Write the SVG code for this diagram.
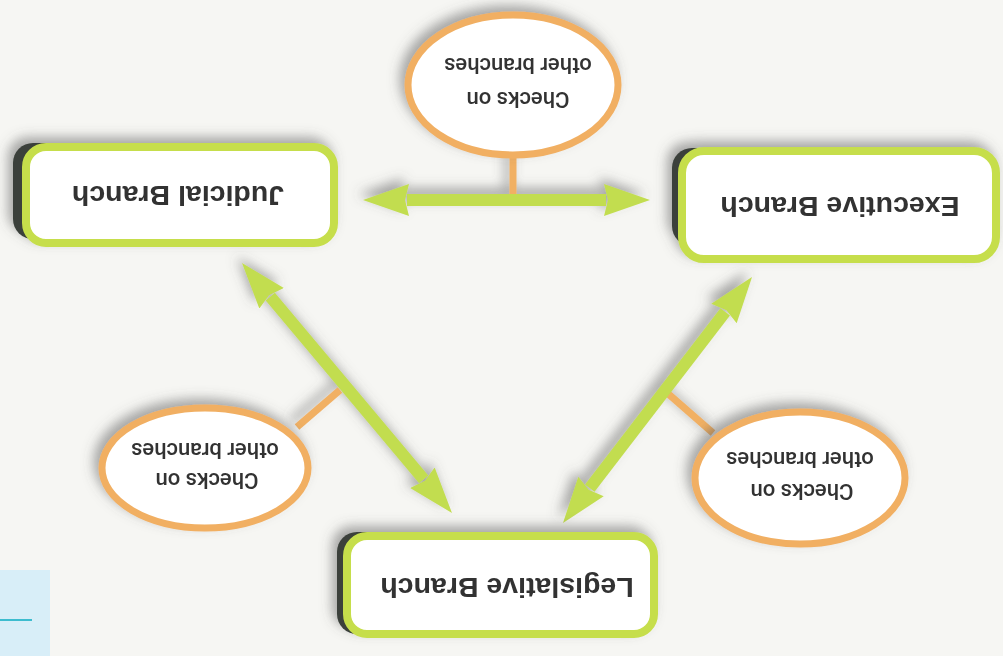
<svg xmlns="http://www.w3.org/2000/svg" width="1003" height="656" viewBox="0 0 1003 656">
<style>
.box{fill:#ffffff;stroke:#c6de4c;stroke-width:8}
.dark{fill:#3a403a}
.oval{fill:#ffffff;stroke:#f1af62;stroke-width:7}
.stem{stroke:#f1b064;stroke-width:7;fill:none}
.arrow{stroke:#c2dd4f;stroke-width:12;fill:none;marker-start:url(#head);marker-end:url(#head)}
.lbl{font-family:Arial,"Liberation Sans",Roboto,sans-serif;font-weight:700;font-size:28.5px;fill:#333333;text-anchor:middle}
.chk{font-family:Roboto,"Noto Sans",sans-serif;font-weight:500;font-size:22px;fill:#333333;text-anchor:middle}
</style>
<defs>
<filter id="sh" x="-20%" y="-30%" width="140%" height="160%">
<feDropShadow dx="-5" dy="-6" stdDeviation="6" flood-color="#555555" flood-opacity="0.5"/>
</filter>
<marker id="head" viewBox="0 -17 46 34" markerWidth="46" markerHeight="34" refX="2" refY="0" markerUnits="userSpaceOnUse" orient="auto-start-reverse">
<path d="M0,-16 L46,0 L0,16 L4,0 Z" fill="#c2dd4f"/>
</marker>
</defs>
<rect width="1003" height="656" fill="#f6f6f3"/>
<g id="corner">
<rect x="0" y="570" width="50" height="86" fill="#d8eef8"/>
<line x1="0" y1="620" x2="32" y2="620" stroke="#3dbccf" stroke-width="2"/>
</g>
<g id="connectors" filter="url(#sh)">
<line class="stem" x1="513" y1="157" x2="513" y2="198"/>
<line class="stem" x1="297" y1="427" x2="340" y2="390"/>
<line class="stem" x1="713" y1="433" x2="665" y2="391"/>
<line class="arrow" x1="407" y1="200" x2="606" y2="200"/>
<line class="arrow" x1="270.3" y1="296.7" x2="423.7" y2="479.3"/>
<line class="arrow" x1="725.2" y1="311.9" x2="589.8" y2="488.1"/>
</g>
<g id="judicial" filter="url(#sh)">
<rect class="dark" x="13" y="143" width="300" height="96" rx="20"/>
<rect class="box" x="26" y="147" width="308" height="96" rx="20"/>
<text class="lbl" transform="translate(178 196) rotate(180)" y="10">Judicial Branch</text>
</g>
<g id="executive" filter="url(#sh)">
<rect class="dark" x="672" y="148" width="300" height="98" rx="20"/>
<rect class="box" x="682" y="151" width="314" height="108" rx="22"/>
<text class="lbl" transform="translate(840 207) rotate(180)" y="10">Executive Branch</text>
</g>
<g id="legislative" filter="url(#sh)">
<rect class="dark" x="337" y="532" width="300" height="102" rx="20"/>
<rect class="box" x="347" y="536" width="307" height="98" rx="20"/>
<text class="lbl" transform="translate(507 588) rotate(180)" y="10">Legislative Branch</text>
</g>
<g id="check-top" filter="url(#sh)">
<ellipse class="oval" cx="513" cy="85" rx="105" ry="70"/>
<text class="chk" transform="translate(518 100) rotate(180)" y="8">Checks on</text>
<text class="chk" transform="translate(518 66) rotate(180)" y="8">other branches</text>
</g>
<g id="check-left" filter="url(#sh)">
<ellipse class="oval" cx="205" cy="468" rx="103" ry="60"/>
<text class="chk" transform="translate(207 481) rotate(180)" y="8">Checks on</text>
<text class="chk" transform="translate(205 451) rotate(180)" y="8">other branches</text>
</g>
<g id="check-right" filter="url(#sh)">
<ellipse class="oval" cx="800" cy="478" rx="105" ry="66"/>
<text class="chk" transform="translate(802 492) rotate(180)" y="8">Checks on</text>
<text class="chk" transform="translate(800 460) rotate(180)" y="8">other branches</text>
</g>
</svg>
